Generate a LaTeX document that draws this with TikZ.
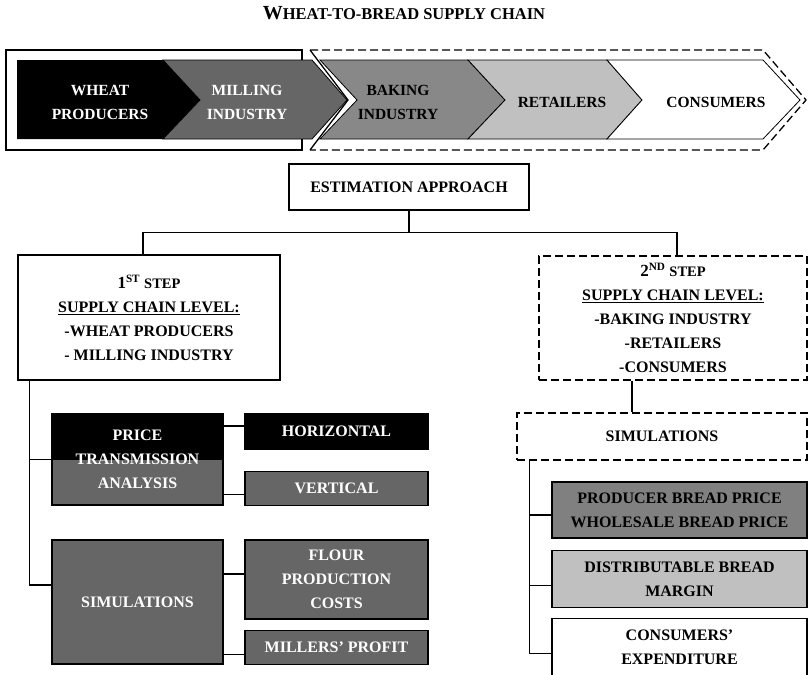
\documentclass[tikz,border=0pt]{standalone}
\usepackage{fontspec}
\setmainfont{Liberation Serif}
\usetikzlibrary{positioning}

\definecolor{millgray}{RGB}{102,102,102}
\definecolor{bakegray}{RGB}{136,136,136}
\definecolor{breadgray}{RGB}{128,128,128}
\definecolor{retailgray}{RGB}{192,192,192}

\begin{document}
\begin{tikzpicture}[x=1pt,y=-1pt]
\tikzstyle{box}=[rectangle, draw=black, line width=1.3pt, align=center, inner sep=2pt, font=\bfseries\fontsize{16}{24}\selectfont]
\tikzstyle{dashbox}=[box, dash pattern=on 8pt off 4pt]
\tikzstyle{darkbox}=[box, fill=millgray, text=white]
\tikzstyle{blackbox}=[box, fill=black, text=white]
\tikzstyle{chev}=[draw=black, line width=0.8pt]
\tikzstyle{chevtext}=[align=center, font=\bfseries\fontsize{15.5}{24}\selectfont]
\tikzstyle{connect}=[line width=1.3pt]
\useasboundingbox (0,0) rectangle (809,675);

% title
\node[font=\bfseries] (title) at (404,13) {\fontsize{20}{20}\selectfont W\fontsize{16.5}{16}\selectfont HEAT-TO-BREAD SUPPLY CHAIN};

% supply chain
\draw[line width=1.3pt] (6,50) rectangle (302,150);
\draw[line width=1.3pt, dash pattern=on 8pt off 4pt] (310,50) -- (763,50) -- (806,100) -- (763,150) -- (310,150);
\draw[line width=1.3pt] (310,50) -- (348,100) -- (310,150);
\fill[black] (17,60) -- (163,60) -- (200,100) -- (163,139) -- (17,139) -- cycle;
\filldraw[chev, fill=millgray] (163,60) -- (312,60) -- (347,100) -- (312,139) -- (163,139) -- (200,100) -- cycle;
\filldraw[chev, fill=bakegray] (320,60) -- (468,60) -- (505,100) -- (468,139) -- (320,139) -- (357,100) -- cycle;
\filldraw[chev, fill=retailgray] (468,60) -- (607,60) -- (642,100) -- (607,139) -- (468,139) -- (505,100) -- cycle;
\filldraw[chev, fill=white] (607,60) -- (763,60) -- (800,100) -- (763,139) -- (607,139) -- (642,100) -- cycle;
\node[chevtext, text=white] (wheat) at (100,102) {WHEAT\\PRODUCERS};
\node[chevtext, text=white] (milling) at (247,102) {MILLING\\INDUSTRY};
\node[chevtext] (baking) at (398,102) {BAKING\\INDUSTRY};
\node[chevtext] (retail) at (562,102) {RETAILERS};
\node[chevtext] (cons) at (716,102) {CONSUMERS};

% estimation approach
\node[box, minimum width=240pt, minimum height=46pt] (est) at (409,187) {ESTIMATION APPROACH};
\node[box, minimum width=262pt, minimum height=125pt] (step1) at (149,317.5)
  {{\fontsize{17}{24}\selectfont 1}\textsuperscript{ST} {\fontsize{14.5}{24}\selectfont STEP}\\\underline{SUPPLY CHAIN LEVEL:}\\-WHEAT PRODUCERS\\- MILLING INDUSTRY};
\node[dashbox, minimum width=268pt, minimum height=124pt] (step2) at (673,318)
  {{\fontsize{17}{24}\selectfont 2}\textsuperscript{ND} {\fontsize{14.5}{24}\selectfont STEP}\\\underline{SUPPLY CHAIN LEVEL:}\\-BAKING INDUSTRY\\-RETAILERS\\-CONSUMERS};
\draw[connect] (est.south) -- ++(0,22) coordinate (split);
\draw[connect] (split) -| ([xshift=-6pt]step1.north);
\draw[connect] (split) -| ([xshift=4pt]step2.north);

% 1st step
\node[darkbox, minimum width=171pt, minimum height=91pt,
  path picture={\fill[black] (path picture bounding box.north west) rectangle (path picture bounding box.east);}]
  (price) at (137.5,459.5) {PRICE\\TRANSMISSION\\ANALYSIS};
\node[blackbox, minimum width=183pt, minimum height=35pt] (horiz) at (336.5,431.5) {HORIZONTAL};
\node[darkbox, minimum width=183pt, minimum height=34pt, below=21pt of horiz] (vert) {VERTICAL};
\node[darkbox, minimum width=171pt, minimum height=124pt] (sim1) at (137.5,602) {SIMULATIONS};
\node[darkbox, minimum width=183pt, minimum height=79pt] (flour) at (336.5,579.5) {FLOUR\\PRODUCTION\\COSTS};
\node[darkbox, minimum width=183pt, minimum height=34pt, below=10pt of flour] (profit) {MILLERS’ PROFIT};

\coordinate (trunk1) at ([xshift=12pt]step1.south west);
\path ([yshift=17pt]sim1.west) coordinate (b1);
\draw[connect] (trunk1) |- (b1);
\draw[connect] (trunk1 |- price.west) -- (price.west);
\path ([yshift=5.5pt]horiz.west) coordinate (h1)
      ([yshift=-6pt]vert.west) coordinate (v1)
      ([yshift=5.5pt]flour.west) coordinate (f1)
      ([yshift=-7pt]profit.west) coordinate (m1);
\draw[connect] (h1) -- (h1 -| price.east);
\draw[connect] (v1) -- (v1 -| price.east);
\draw[connect] (f1) -- (f1 -| sim1.east);
\draw[connect] (m1) -- (m1 -| sim1.east);

% 2nd step
\node[dashbox, minimum width=290pt, minimum height=47pt] (sim2) at (662,436.5) {SIMULATIONS};
\node[box, fill=breadgray, minimum width=255pt, minimum height=56pt] (prod) at (679.5,510) {PRODUCER BREAD PRICE\\WHOLESALE BREAD PRICE};
\node[box, fill=retailgray, minimum width=255pt, minimum height=57pt, below=11pt of prod] (margin) {DISTRIBUTABLE BREAD\\MARGIN};
\node[box, fill=white, minimum width=255pt, minimum height=58pt, below=10pt of margin] (expend) {CONSUMERS’\\EXPENDITURE};

\path ([xshift=-30pt]sim2.north) coordinate (s2top);
\draw[connect] (s2top) -- (s2top |- step2.south);
\coordinate (trunk2) at ([xshift=13pt]sim2.south west);
\path ([yshift=-5pt]prod.west) coordinate (p1)
      ([yshift=-6.5pt]margin.west) coordinate (g1)
      ([yshift=-6pt]expend.west) coordinate (e1);
\draw[connect] (trunk2) |- (e1);
\draw[connect] (trunk2 |- p1) -- (p1);
\draw[connect] (trunk2 |- g1) -- (g1);
\end{tikzpicture}
\end{document}
